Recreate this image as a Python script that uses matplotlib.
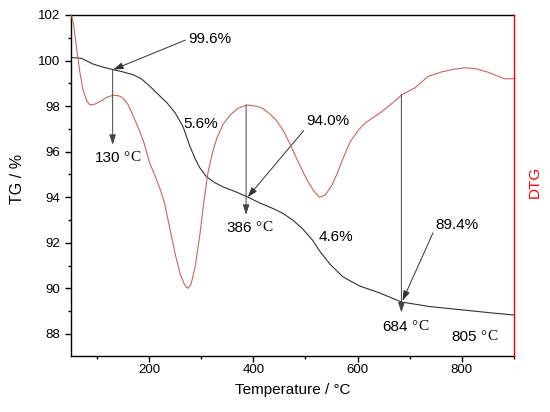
import matplotlib

matplotlib.use("Agg")
import matplotlib.pyplot as plt
from matplotlib.ticker import MultipleLocator

plt.rcParams["font.family"] = ["Liberation Sans", "DejaVu Sans"]

# TG curve (mass %)
tg_temp = [50, 70, 92, 110, 131, 150, 169, 185, 201, 218, 234, 250, 265, 278,
           288, 297, 310, 325, 342, 365, 387, 412, 441, 458, 476, 495, 514,
           527, 547, 572, 604, 642, 684, 738, 802, 853, 900]
tg_mass = [100.13, 100.1, 99.85, 99.72, 99.6, 99.5, 99.38, 99.2, 98.88, 98.5,
           98.15, 97.7, 97.1, 96.25, 95.7, 95.3, 94.9, 94.65, 94.45, 94.25,
           94.03, 93.75, 93.47, 93.27, 92.99, 92.6, 92.1, 91.64, 91.06, 90.5,
           90.1, 89.8, 89.4, 89.2, 89.05, 88.93, 88.83]

# DTG curve (arbitrary units, drawn on a twin axis)
dtg_temp = [50, 55, 61, 67, 73, 80, 86, 95, 106, 118, 131, 142, 150, 160, 167,
            180, 190, 201, 212, 222, 230, 240, 250, 260, 268, 274, 280, 288,
            297, 305, 313, 322, 330, 342, 355, 370, 387, 405, 418, 432, 445,
            458, 470, 485, 502, 515, 527, 538, 550, 560, 572, 585, 600, 614,
            630, 646, 665, 685, 710, 735, 761, 785, 805, 825, 849, 865, 882,
            900]
dtg_val = [102.1, 101.6, 100.5, 99.5, 98.72, 98.25, 98.05, 98.08, 98.2, 98.38,
           98.48, 98.45, 98.35, 98.05, 97.7, 97.0, 96.4, 95.5, 94.9, 94.3,
           93.7, 92.6, 91.5, 90.6, 90.15, 90.0, 90.15, 90.9, 92.3, 93.8, 95.1,
           96.0, 96.6, 97.2, 97.6, 97.9, 98.05, 98.0, 97.9, 97.65, 97.35,
           96.9, 96.35, 95.6, 94.8, 94.3, 94.0, 94.1, 94.5, 95.0, 95.7, 96.4,
           96.9, 97.25, 97.5, 97.75, 98.1, 98.5, 98.8, 99.3, 99.5, 99.62,
           99.68, 99.65, 99.5, 99.35, 99.2, 99.2]

XLIM = (50, 900)
YLIM = (87.03, 102)

fig = plt.figure(figsize=(5.5, 4.12), dpi=100)
ax = fig.add_axes([0.129, 0.136, 0.8055, 0.8276])
ax.plot(tg_temp, tg_mass, color="#333333", lw=0.8)
ax.set_xlim(*XLIM)
ax.set_ylim(*YLIM)

ax.xaxis.set_major_locator(MultipleLocator(200))
ax.xaxis.set_minor_locator(MultipleLocator(100))
ax.yaxis.set_major_locator(MultipleLocator(2))
ax.yaxis.set_minor_locator(MultipleLocator(1))
ax.tick_params(which="both", direction="out", width=1, labelsize=9.5)
ax.tick_params(which="major", length=4)
ax.tick_params(which="minor", length=2.2)
ax.tick_params(axis="x", pad=2)
ax.tick_params(axis="y", pad=4)
ax.tick_params(top=False, right=False, which="both")
for s in ("left", "bottom", "top"):
    ax.spines[s].set_linewidth(1.0)
ax.spines["right"].set_visible(False)

ax.set_xlabel("Temperature / °C", fontsize=11)
ax.xaxis.set_label_coords(0.501, -0.08)
ax.set_ylabel("TG / %", fontsize=11.5)
ax.yaxis.set_label_coords(-0.104, 0.52)

ax2 = ax.twinx()
ax2.plot(dtg_temp, dtg_val, color="#c86464", lw=0.8)
ax2.set_ylim(*YLIM)
ax2.set_yticks([])
for s in ("left", "bottom", "top"):
    ax2.spines[s].set_visible(False)
ax2.spines["right"].set_color("red")
ax2.spines["right"].set_linewidth(1.0)
ax2.set_ylabel("DTG", color="red", fontsize=11)
ax2.yaxis.set_label_coords(1.032, 0.51)

head = "-|>,head_length=0.55,head_width=0.18"
arrow = dict(arrowstyle=head, color="#333333", lw=0.7, shrinkA=0, shrinkB=0,
             mutation_scale=11)

# mass-loss labels with slanted arrows
ax.annotate("99.6%", xy=(131, 99.6), xytext=(275, 100.95), fontsize=11,
            ha="left", va="center",
            arrowprops=dict(arrow, relpos=(0, 0.5)))
ax.annotate("94.0%", xy=(389, 94.0), xytext=(502, 97.35), fontsize=11,
            ha="left", va="center",
            arrowprops=dict(arrow, relpos=(0, 0.05)))
ax.annotate("89.4%", xy=(686, 89.45), xytext=(750, 92.77), fontsize=11,
            ha="left", va="center",
            arrowprops=dict(arrow, relpos=(0, 0.4)))
ax.text(265, 97.22, "5.6%", fontsize=11, ha="left", va="center")
ax.text(526, 92.24, "4.6%", fontsize=11, ha="left", va="center")

# vertical arrows from the DTG extrema
for x0, y0, y1 in [(130, 99.6, 96.3), (386, 98.05, 93.23), (684, 98.5, 88.94)]:
    ax2.annotate("", xy=(x0, y1), xytext=(x0, y0),
                 arrowprops=dict(arrow, color="#444444"))

# temperature labels: number in sans, unit in a serif face
serif = ["Liberation Serif", "DejaVu Serif"]
for x0, y0, num in [(96, 95.73, "130"), (349, 92.66, "386"),
                    (648, 88.32, "684"), (780, 87.88, "805")]:
    t = ax.text(x0, y0, num, fontsize=11, ha="left", va="center")
    deg = ax.annotate("°", xy=(1, 0.5), xycoords=t, xytext=(2.2, 0),
                      textcoords="offset points", ha="left", va="center",
                      fontsize=11, family=serif)
    ax.annotate("C", xy=(1, 0.5), xycoords=deg, xytext=(0.8, 0),
                textcoords="offset points", ha="left", va="center",
                fontsize=11, family=serif)

fig.savefig("out.png", dpi=100)
